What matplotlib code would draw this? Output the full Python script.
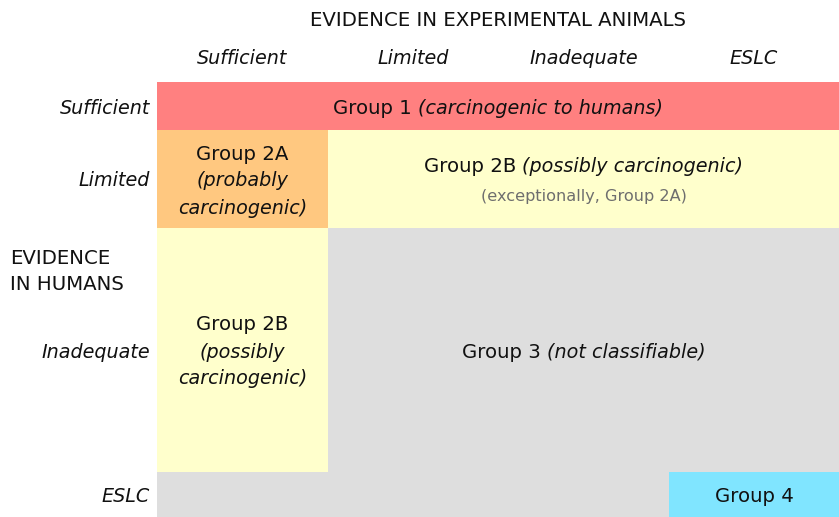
import matplotlib
matplotlib.use("Agg")
import matplotlib.pyplot as plt
from matplotlib.patches import Rectangle

# ---- data ----
animal_categories = ["Sufficient", "Limited", "Inadequate", "ESLC"]
human_categories = ["Sufficient", "Limited", "Inadequate", "ESLC"]
top_title = "EVIDENCE IN EXPERIMENTAL ANIMALS"
side_title = ["EVIDENCE", "IN HUMANS"]

# cells: (row_start, row_end, col_start, col_end, colour key, lines)
# each line: list of (text, style) segments
cells = [
    (0, 1, 0, 4, "g1", [[("Group 1 ", "normal"), ("(carcinogenic to humans)", "italic")]]),
    (1, 2, 0, 1, "g2a", [[("Group 2A", "normal")], [("(probably", "italic")], [("carcinogenic)", "italic")]]),
    (1, 2, 1, 4, "g2b", [[("Group 2B ", "normal"), ("(possibly carcinogenic)", "italic")],
                         [("(exceptionally, Group 2A)", "note")]]),
    (2, 3, 0, 1, "g2b", [[("Group 2B", "normal")], [("(possibly", "italic")], [("carcinogenic)", "italic")]]),
    (2, 3, 1, 4, "g3", [[("Group 3 ", "normal"), ("(not classifiable)", "italic")]]),
    (3, 4, 0, 3, "g3", []),
    (3, 4, 3, 4, "g4", [[("Group 4", "normal")]]),
]
colors = {"g1": "#FF8080", "g2a": "#FFC880", "g2b": "#FFFFCC", "g3": "#DEDEDE", "g4": "#80E5FF"}

# ---- layout (pixels) ----
W, H = 839, 517
col_edges = [157, 328, 499, 669, 839]
row_edges = [82, 130, 228, 472, 517]

fig = plt.figure(figsize=(W / 100, H / 100), dpi=100)
ax = fig.add_axes([0, 0, 1, 1])
ax.set_xlim(0, W)
ax.set_ylim(H, 0)
ax.axis("off")

FS = 14.2
FS_IT = 13.8
NOTE_FS = 11.6
fam = "DejaVu Sans"
TXT = "#111111"

fig.canvas.draw()
renderer = fig.canvas.get_renderer()


def fsize(style):
    return NOTE_FS if style == "note" else (FS_IT if style == "italic" else FS)


def text_width(s, style):
    t = ax.text(0, 0, s, fontsize=fsize(style), family=fam,
                style="italic" if style == "italic" else "normal")
    bb = t.get_window_extent(renderer=renderer)
    t.remove()
    return bb.width


def draw_line(cx, cy, segs):
    widths = [text_width(s, st) for s, st in segs]
    total = sum(widths)
    x = cx - total / 2
    for (s, st), w in zip(segs, widths):
        ax.text(x, cy, s, fontsize=fsize(st), family=fam,
                style="italic" if st == "italic" else "normal",
                color="#6E6E6E" if st == "note" else TXT,
                ha="left", va="center")
        x += w


for r0, r1, c0, c1, key, lines in cells:
    x0, x1 = col_edges[c0], col_edges[c1]
    y0, y1 = row_edges[r0], row_edges[r1]
    ax.add_patch(Rectangle((x0, y0), x1 - x0, y1 - y0, facecolor=colors[key],
                           edgecolor="none"))
    if not lines:
        continue
    cx = (x0 + x1) / 2
    cy = (y0 + y1) / 2 + 2
    n = len(lines)
    if n == 3:
        offs = [-27, 0, 27]
    elif n == 2:
        offs = [-14, 15]
    else:
        offs = [0]
    for line, o in zip(lines, offs):
        draw_line(cx, cy + o, line)

# headers
ax.text(498, 20, top_title, fontsize=FS, family=fam, ha="center", va="center", color=TXT)
for i, c in enumerate(animal_categories):
    ax.text((col_edges[i] + col_edges[i + 1]) / 2, 58, c, fontsize=FS_IT, family=fam,
            style="italic", ha="center", va="center", color=TXT)
for i, c in enumerate(human_categories):
    ax.text(150, (row_edges[i] + row_edges[i + 1]) / 2 + 2, c, fontsize=FS_IT, family=fam,
            style="italic", ha="right", va="center", color=TXT)
ax.text(10, 259, side_title[0], fontsize=FS, family=fam, ha="left", va="center", color=TXT)
ax.text(10, 285, side_title[1], fontsize=FS, family=fam, ha="left", va="center", color=TXT)

fig.savefig("out.png", dpi=100)
